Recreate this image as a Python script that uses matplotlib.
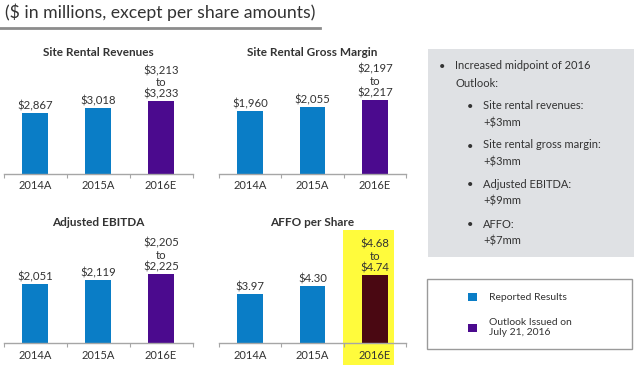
import matplotlib
matplotlib.use("Agg")
import matplotlib.pyplot as plt
from matplotlib.patches import Rectangle
import matplotlib.transforms as mtransforms

plt.rcParams['font.family'] = ['Lato', 'DejaVu Sans']

W, H = 640, 365

categories = ['2014A', '2015A', '2016E']

rev_title = 'Site Rental Revenues'
rev_vals = [2867, 3018, 3233]
rev_labels = ['$2,867', '$3,018', '$3,213\nto\n$3,233']

gm_title = 'Site Rental Gross Margin'
gm_vals = [1960, 2055, 2217]
gm_labels = ['$1,960', '$2,055', '$2,197\nto\n$2,217']

ebitda_title = 'Adjusted EBITDA'
ebitda_vals = [2051, 2119, 2225]
ebitda_labels = ['$2,051', '$2,119', '$2,205\nto\n$2,225']

affo_title = 'AFFO per Share'
affo_vals = [3.97, 4.30, 4.74]
affo_labels = ['$3.97', '$4.30', '$4.68\nto\n$4.74']

BLUE = '#0a7dc6'
PURPLE = '#4b0a8e'
MAROON = '#4a0812'
YELLOW = '#fffb3c'
TXT = '#333333'

fig = plt.figure(figsize=(W / 100, H / 100), dpi=100)


def px_axes(x0, x1, ytop, ybase):
    return fig.add_axes([x0 / W, (H - ybase) / H, (x1 - x0) / W, (ybase - ytop) / H])


def panel(ax, title, vals, labels, ylim, colors, highlight=False):
    x = range(len(categories))
    ax.set_xlim(-0.5, 2.5)
    ax.set_ylim(*ylim)
    if highlight:
        trans = mtransforms.blended_transform_factory(ax.transData, ax.transAxes)
        ax.add_patch(Rectangle((1.49, -0.3), 0.82, 1.3, transform=trans,
                               facecolor=YELLOW, edgecolor='none', zorder=0,
                               clip_on=False))
    bars = ax.bar(x, [v - ylim[0] for v in vals], bottom=ylim[0], width=0.41,
                  color=colors, zorder=2)
    for b, lab in zip(bars, labels):
        ax.annotate(lab, (b.get_x() + b.get_width() / 2, b.get_y() + b.get_height()),
                    xytext=(0, 1), textcoords='offset points', ha='center', va='bottom',
                    fontsize=8.2, color=TXT, linespacing=1.1)
    for s in ['top', 'left', 'right']:
        ax.spines[s].set_visible(False)
    ax.spines['bottom'].set_color('#a6a6a6')
    ax.spines['bottom'].set_linewidth(1)
    ax.set_yticks([])
    ax.set_xticks([-0.5, 0.5, 1.5, 2.5])
    ax.set_xticklabels([])
    ax.set_xticks(list(x), minor=True)
    ax.set_xticklabels(categories, minor=True, fontsize=8, color=TXT)
    ax.tick_params(axis='x', which='major', length=3, color='#a6a6a6', width=0.8)
    ax.tick_params(axis='x', which='minor', length=0, pad=4.5)
    ax.patch.set_alpha(0)
    ax.set_title(title, fontsize=8.5, fontweight='bold', color=TXT, pad=3)


ax1 = px_axes(3.5, 192.5, 60, 174)
panel(ax1, rev_title, rev_vals, rev_labels, (1000, 4500), [BLUE, BLUE, PURPLE])
ax2 = px_axes(218.75, 406.25, 60, 174)
panel(ax2, gm_title, gm_vals, gm_labels, (500, 3150), [BLUE, BLUE, PURPLE])
ax3 = px_axes(3.5, 192.5, 230, 343.3)
panel(ax3, ebitda_title, ebitda_vals, ebitda_labels, (1000, 3000), [BLUE, BLUE, PURPLE])
ax4 = px_axes(218.75, 406.25, 230, 343.3)
panel(ax4, affo_title, affo_vals, affo_labels, (2, 6.55), [BLUE, BLUE, MAROON], highlight=True)

# Header
fig.text(5 / W, 1 - 12 / H, '($ in millions, except per share amounts)', fontsize=12.7,
         color=TXT, va='center', ha='left')
fig.add_artist(plt.Line2D([0, 320 / W], [1 - 27.5 / H, 1 - 27.5 / H], color='#8c8c8c',
                          linewidth=2, transform=fig.transFigure))

# Gray commentary box
fig.add_artist(Rectangle((428 / W, 1 - 257 / H), (634 - 428) / W, (257 - 49) / H,
                         transform=fig.transFigure, facecolor='#dfe1e4', edgecolor='none'))

box_items = [
    (441.7, 455, 66.7, 'Increased midpoint of 2016\nOutlook:'),
    (470, 483.3, 106.7, 'Site rental revenues:\n+$3mm'),
    (470, 483.3, 146, 'Site rental gross margin:\n+$3mm'),
    (470, 483.3, 185, 'Adjusted EBITDA:\n+$9mm'),
    (470, 483.3, 225, 'AFFO:\n+$7mm'),
]
for bx, tx, ty, txt in box_items:
    fig.text(bx / W, 1 - ty / H, '•', fontsize=8, color=TXT, ha='center', va='center')
    fig.text(tx / W, 1 - (ty - 6.5) / H, txt, fontsize=8, color=TXT, ha='left', va='top',
             linespacing=1.7)

# Legend box
fig.add_artist(Rectangle((427 / W, 1 - 349 / H), (632 - 427) / W, (349 - 279) / H,
                         transform=fig.transFigure, facecolor='white', edgecolor='#9a9a9a',
                         linewidth=1))
fig.add_artist(Rectangle((468 / W, 1 - 301 / H), 9 / W, 8.5 / H, transform=fig.transFigure,
                         facecolor=BLUE, edgecolor='none'))
fig.add_artist(Rectangle((468 / W, 1 - 332 / H), 9 / W, 8.5 / H, transform=fig.transFigure,
                         facecolor=PURPLE, edgecolor='none'))
fig.text(489 / W, 1 - 297 / H, 'Reported Results', fontsize=7.5, color=TXT, va='center')
fig.text(489 / W, 1 - 327.7 / H, 'Outlook Issued on\nJuly 21, 2016', fontsize=7.5, color=TXT,
         va='center', linespacing=1.1)

fig.savefig('out.png', dpi=100)
